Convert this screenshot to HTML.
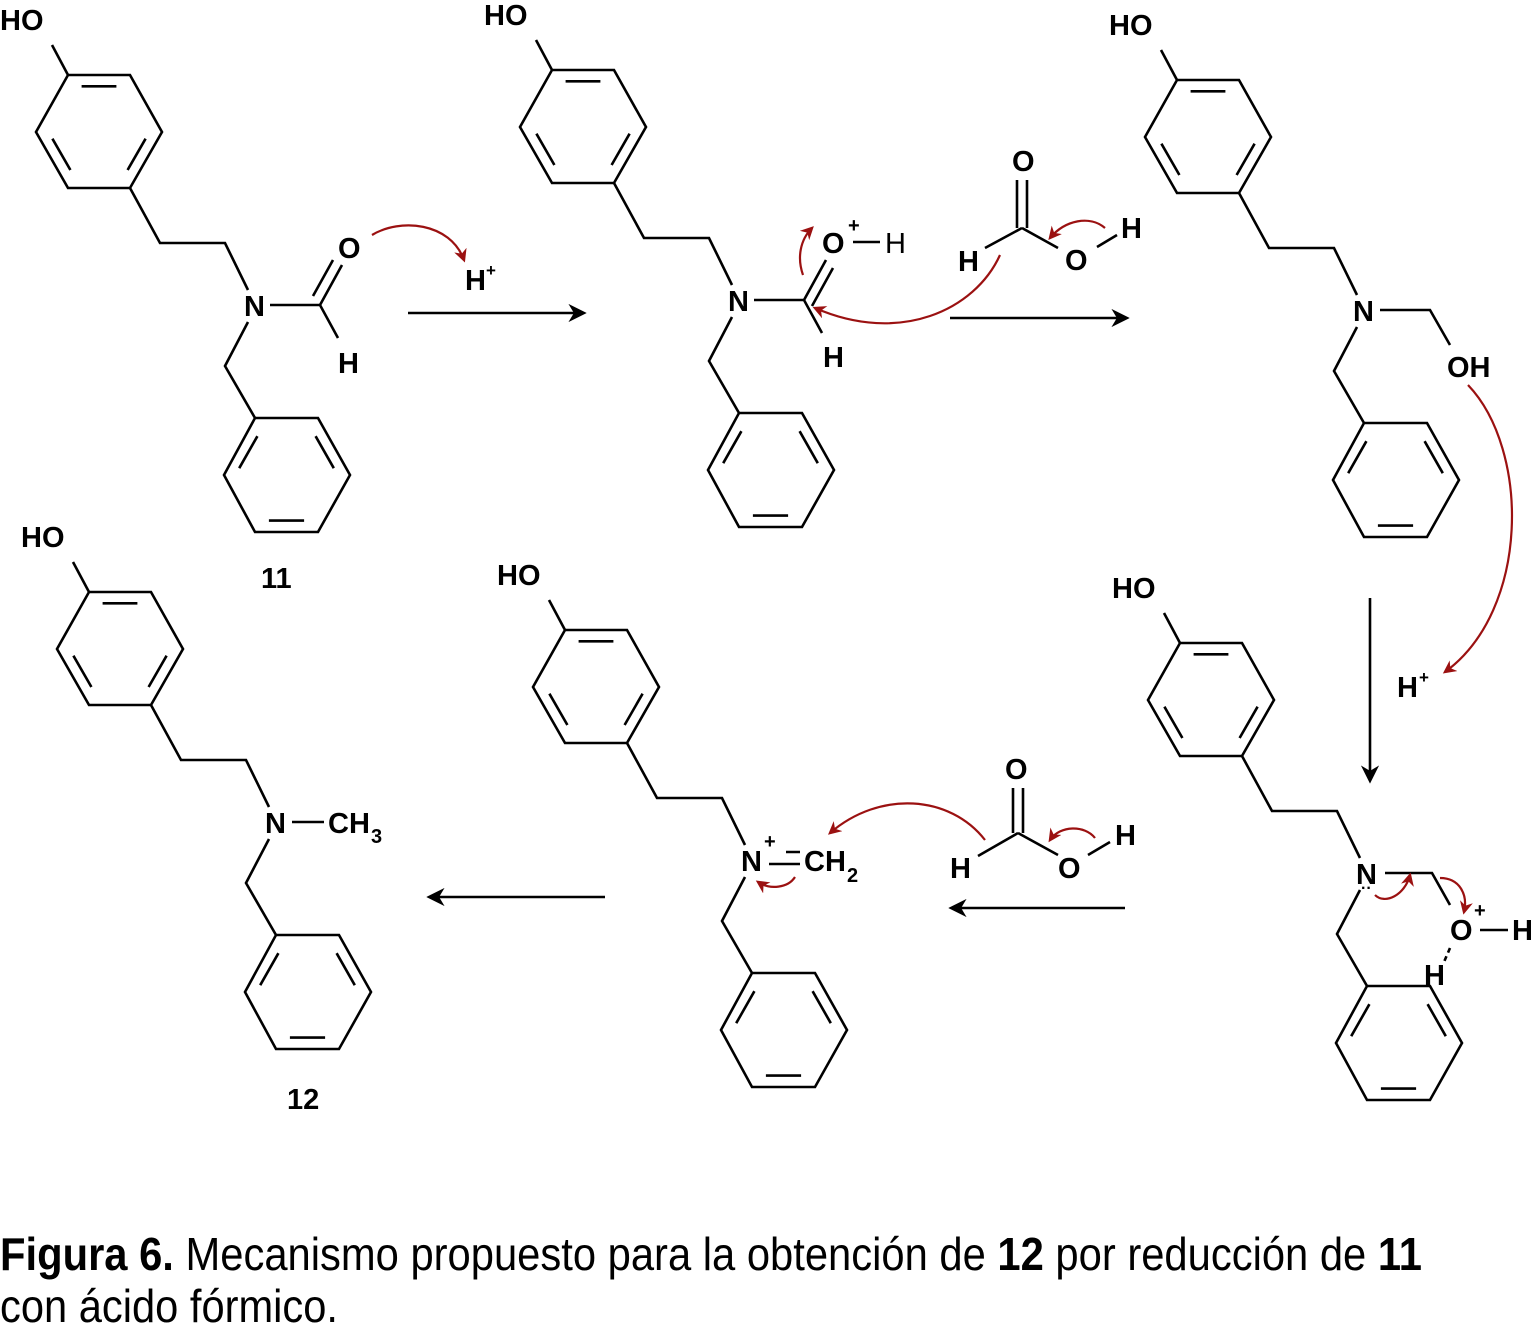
<!DOCTYPE html>
<html><head><meta charset="utf-8"><style>
html,body{margin:0;padding:0;background:#fff}
svg{display:block}
text{font-family:"Liberation Sans",Arial,sans-serif;font-weight:bold;font-size:29px;fill:#000}
</style></head><body>
<svg width="1534" height="1328" viewBox="0 0 1534 1328" xmlns="http://www.w3.org/2000/svg">
<defs>
<marker id="ar" viewBox="0 0 10 10" refX="8" refY="5" markerWidth="7" markerHeight="7" orient="auto-start-reverse"><path d="M0,0 L10,5 L0,10 L3,5z" fill="#000"/></marker>
<marker id="rr" viewBox="0 0 10 10" refX="8" refY="5" markerWidth="6" markerHeight="6" orient="auto"><path d="M0,0 L10,5 L0,10 L3,5z" fill="#9b1111"/></marker>
<g id="mol" fill="none" stroke="#000" stroke-width="2.6">
<path d="M52,45 L68,75"/>
<path d="M68,75 L130,75 L162,132 L130,188 L68,188 L36,132 Z"/>
<path d="M81.6,86.3 L116.4,86.3 M145.6,138.7 L127.6,170 M70.4,170 L52.4,138.7"/>
<path d="M130,188 L160,243 L225,243 L248,290"/>
<path d="M248,322 L225,366 L255,418"/>
<path d="M255,418 L318,418 L350,475 L318,532 L255,532 L224,475 Z"/>
<path d="M315.6,436.2 L333.8,468.2 M304.1,520.6 L268.9,520.6 M239.2,468.2 L257.4,436.2"/>
</g>
</defs>

<!-- molecule skeletons -->
<use href="#mol"/>
<use href="#mol" transform="translate(484,-5)"/>
<use href="#mol" transform="translate(1109,5)"/>
<use href="#mol" transform="translate(1112,568)"/>
<use href="#mol" transform="translate(497,555)"/>
<use href="#mol" transform="translate(21,517)"/>

<!-- HO / N labels -->
<text x="0" y="30">HO</text><text x="244" y="316">N</text>
<text x="484" y="25">HO</text><text x="728" y="311">N</text>
<text x="1109" y="35">HO</text><text x="1353" y="321">N</text>
<text x="1112" y="598">HO</text><text x="1356" y="884">N</text>
<text x="497" y="585">HO</text><text x="741" y="871">N</text>
<text x="21" y="547">HO</text><text x="265" y="833">N</text>

<g fill="none" stroke="#000" stroke-width="2.6">
<!-- M1 -->
<path d="M270,305 L320,305 L338,338 M320,305 L342,265 M313,296 L333,260"/>
<path d="M408,313 L583,313" marker-end="url(#ar)"/>
<!-- M2 -->
<path d="M754,300 L804,300 L822,333 M804,300 L826,260 M812,306 L833,268"/>
<path d="M853,242 L880,242"/>
<!-- formic 1 -->
<path d="M1017,180 L1017,228 M1027,180 L1027,228 M1022,228 L985,248 M1022,228 L1058,248 M1097,247 L1117,235"/>
<path d="M950,318 L1126,318" marker-end="url(#ar)"/>
<!-- M3 -->
<path d="M1380,310 L1430,310 L1450,345"/>
<path d="M1370,598 L1370,780" marker-end="url(#ar)"/>
<!-- M4 -->
<path d="M1385,873 L1432,873 L1450,905 M1480,930 L1508,930"/>
<path d="M1450,948 L1444,962" stroke-dasharray="5,4"/>
<path d="M1125,908 L952,908" marker-end="url(#ar)"/>
<!-- formic 2 -->
<path d="M1013,788 L1013,833 M1023,788 L1023,833 M1018,833 L978,856 M1018,833 L1058,855 M1088,855 L1110,842"/>
<!-- M5 -->
<path d="M786,852 L800,852 M769,864 L800,864"/>
<path d="M605,897 L430,897" marker-end="url(#ar)"/>
<!-- M6 -->
<path d="M292,822 L324,822"/>
</g>

<!-- M1 texts -->
<text x="338" y="258">O</text><text x="338" y="373">H</text>
<text x="465" y="290">H</text><text x="486" y="276" style="font-size:17px">+</text>
<text x="261" y="588">11</text>
<!-- M2 texts -->
<text x="822" y="253">O</text><text x="848" y="232" style="font-size:20px">+</text>
<text x="885" y="253" style="font-weight:normal">H</text>
<text x="823" y="367">H</text>
<text x="1012" y="171">O</text><text x="958" y="271">H</text><text x="1065" y="270">O</text><text x="1121" y="238">H</text>
<!-- M3 texts -->
<text x="1447" y="377">OH</text>
<text x="1397" y="697">H</text><text x="1419" y="683" style="font-size:17px">+</text>
<!-- M4 texts -->
<text x="1450" y="940">O</text><text x="1474" y="917" style="font-size:20px">+</text>
<text x="1512" y="940">H</text><text x="1424" y="985">H</text>
<text x="1361" y="893" style="font-size:16px">··</text>
<!-- formic 2 texts -->
<text x="1005" y="779">O</text><text x="950" y="878">H</text><text x="1058" y="878">O</text><text x="1115" y="845">H</text>
<!-- M5 texts -->
<text x="764" y="848" style="font-size:20px">+</text>
<text x="804" y="871">CH</text><text x="847" y="882" style="font-size:20px">2</text>
<!-- M6 texts -->
<text x="328" y="833">CH</text><text x="371" y="843" style="font-size:20px">3</text>
<text x="287" y="1109">12</text>

<!-- red curved arrows -->
<g fill="none" stroke="#9b1111" stroke-width="2.2">
<path d="M372,235 C400,218 450,222 464,260" marker-end="url(#rr)"/>
<path d="M803,275 C797,258 800,240 812,228" marker-end="url(#rr)"/>
<path d="M1000,255 C975,310 900,345 815,308" marker-end="url(#rr)"/>
<path d="M1105,228 C1090,215 1065,220 1050,238" marker-end="url(#rr)"/>
<path d="M1468,385 C1530,450 1530,610 1445,672" marker-end="url(#rr)"/>
<path d="M1375,895 C1385,905 1405,895 1410,875" marker-end="url(#rr)"/>
<path d="M1440,878 C1460,878 1468,895 1464,912" marker-end="url(#rr)"/>
<path d="M985,840 C950,795 880,790 830,833" marker-end="url(#rr)"/>
<path d="M1095,838 C1085,825 1060,825 1050,840" marker-end="url(#rr)"/>
<path d="M795,877 C788,888 770,890 758,882" marker-end="url(#rr)"/>
</g>

<!-- caption -->
<text x="0" y="1270" textLength="1422" lengthAdjust="spacingAndGlyphs" style="font-size:46px;font-weight:normal"><tspan style="font-weight:bold">Figura 6.</tspan> Mecanismo propuesto para la obtención de <tspan style="font-weight:bold">12</tspan> por reducción de <tspan style="font-weight:bold">11</tspan></text>
<text x="0" y="1322" textLength="338" lengthAdjust="spacingAndGlyphs" style="font-size:46px;font-weight:normal">con ácido fórmico.</text>
</svg>
</body></html>
